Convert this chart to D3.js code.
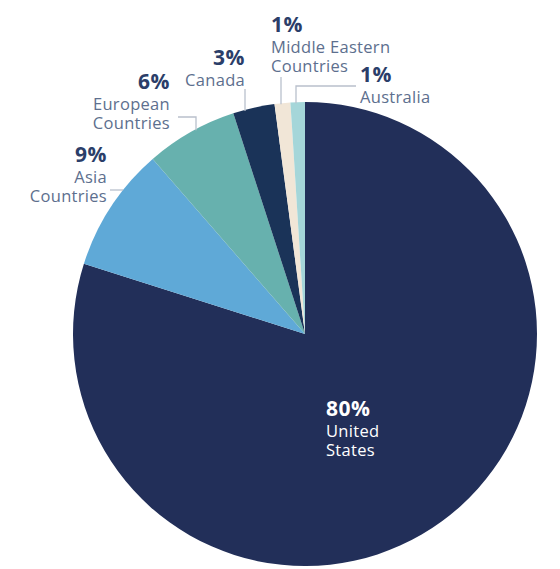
<!DOCTYPE html>
<html>
<head>
<meta charset="utf-8">
<script src="https://cdn.jsdelivr.net/npm/d3@7"></script>
<style>
  body { margin: 0; background: #fff; }
  svg { display: block; }
  .pct { font-family: 'Open Sans', sans-serif; font-weight: 700; fill: #2b3e69; letter-spacing: 0.5px; }
  .lbl { font-family: 'Open Sans', sans-serif; fill: #5d6f8e; letter-spacing: 0.3px; }
</style>
</head>
<body>
<div id="chart"></div>
<script>
// data
let regions = ['United States', 'Asia Countries', 'European Countries', 'Canada', 'Middle Eastern Countries', 'Australia'];
let shares = [79.9, 8.7, 6.4, 2.9, 1.1, 1.0];
let pctLabels = ['80%', '9%', '6%', '3%', '1%', '1%'];
let nameLines = [['United', 'States'], ['Asia', 'Countries'], ['European', 'Countries'], ['Canada'], ['Middle Eastern', 'Countries'], ['Australia']];
let colors = ['#222f59', '#5fa9d7', '#67b1ae', '#1a3358', '#f1e6d7', '#a5d6d9'];

let width = 560, height = 569;
let cx = 305, cy = 334, radius = 232;

// where each label sits (relative to the page) and how its leader reaches the pie
let labelPos = [
  { x: 326, y: 416, anchor: 'start' },
  { x: 107, y: 162, anchor: 'end', leader: { type: 'h', y: 190, from: 110 } },
  { x: 170, y: 89, anchor: 'end', leader: { type: 'hv', y: 117, from: 178, x: 196 } },
  { x: 245, y: 65, anchor: 'end', leader: { type: 'v', x: 245, from: 89 } },
  { x: 271, y: 32, anchor: 'start', leader: { type: 'v', x: 281, from: 77 } },
  { x: 360, y: 82, anchor: 'start', leader: { type: 'vh', x: 296, y: 86, to: 356 } },
];

let data = regions.map((r, i) => ({ region: r, value: shares[i], pct: pctLabels[i], lines: nameLines[i], color: colors[i], pos: labelPos[i] }));

const svg = d3
  .select('#chart')
  .append('svg')
  .attr('width', width)
  .attr('height', height);

const pie = d3.pie().sort(null).value((d) => d.value);
const arc = d3.arc().innerRadius(0).outerRadius(radius);

const g = svg.append('g').attr('transform', `translate(${cx},${cy})`);

g.selectAll('path')
  .data(pie(data))
  .join('path')
  .attr('d', arc)
  .attr('fill', (d) => d.data.color);

// y on the circle edge for a given page x (upper half), and x for a given page y (left half)
let edgeY = (x) => cy - Math.sqrt(radius * radius - (x - cx) * (x - cx));
let edgeX = (y) => cx - Math.sqrt(radius * radius - (y - cy) * (y - cy));

let leaderPath = (l) => {
  let p = d3.path();
  if (l.type === 'h') {
    p.moveTo(l.from, l.y);
    p.lineTo(edgeX(l.y), l.y);
  } else if (l.type === 'hv') {
    p.moveTo(l.from, l.y);
    p.lineTo(l.x, l.y);
    p.lineTo(l.x, edgeY(l.x) + 1);
  } else if (l.type === 'v') {
    p.moveTo(l.x, l.from);
    p.lineTo(l.x, edgeY(l.x) + 1);
  } else if (l.type === 'vh') {
    p.moveTo(l.x, edgeY(l.x) + 1);
    p.lineTo(l.x, l.y);
    p.lineTo(l.to, l.y);
  }
  return p.toString();
};

svg
  .append('g')
  .selectAll('path')
  .data(data.filter((d) => d.pos.leader))
  .join('path')
  .attr('d', (d) => leaderPath(d.pos.leader))
  .attr('fill', 'none')
  .attr('stroke', '#b9c0cc')
  .attr('stroke-width', 1.3);

// labels
const labels = svg
  .append('g')
  .selectAll('g')
  .data(data)
  .join('g')
  .attr('transform', (d) => `translate(${d.pos.x},${d.pos.y})`)
  .attr('text-anchor', (d) => d.pos.anchor);

labels
  .append('text')
  .attr('class', 'pct')
  .attr('font-size', 21)
  .style('fill', (d, i) => (i === 0 ? '#ffffff' : null))
  .text((d) => d.pct);

labels.each(function (d, i) {
  d3.select(this)
    .selectAll('text.lbl')
    .data(d.lines)
    .join('text')
    .attr('class', 'lbl')
    .attr('font-size', 16.5)
    .attr('y', (t, j) => 21 + j * 19)
    .style('fill', i === 0 ? '#ffffff' : null)
    .text((t) => t);
});
</script>
</body>
</html>
